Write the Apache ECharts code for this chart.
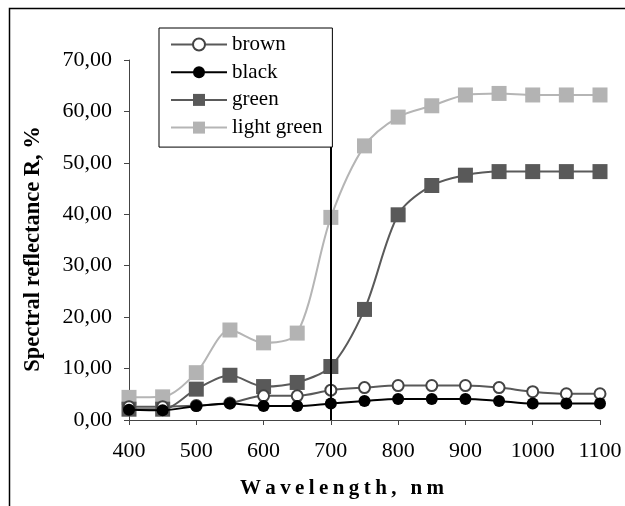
<!DOCTYPE html>
<html>
<head>
<meta charset="utf-8">
<script src="https://cdn.jsdelivr.net/npm/echarts@6/dist/echarts.min.js"></script>
<style>
    html, body { margin: 0; padding: 0; background: #fff; }
    #chart { width: 625px; height: 506px; }
</style>
</head>
<body>
<div id="chart"></div>
<script>
    // wavelengths, nm
    var wavelengths = [400, 450, 500, 550, 600, 650, 700, 750, 800, 850, 900, 950, 1000, 1050, 1100];
    // spectral reflectance, %
    var brown      = [2.6, 2.6, 2.8, 3.3, 4.7, 4.7, 5.8, 6.3, 6.7, 6.7, 6.7, 6.3, 5.5, 5.1, 5.1];
    var black      = [2.0, 1.9, 2.7, 3.2, 2.7, 2.7, 3.2, 3.7, 4.1, 4.1, 4.1, 3.7, 3.2, 3.2, 3.2];
    var green      = [2.1, 2.1, 6.0, 8.7, 6.5, 7.3, 10.4, 21.5, 39.9, 45.6, 47.6, 48.3, 48.3, 48.3, 48.3];
    var lightGreen = [4.4, 4.5, 9.2, 17.5, 15.0, 16.9, 39.4, 53.3, 58.9, 61.1, 63.2, 63.5, 63.2, 63.2, 63.2];
    var markWavelength = 700;
    var xTitle = 'Wavelength, nm';

    function pairs(vals) {
        var out = [];
        for (var i = 0; i < wavelengths.length; i++) {
            out.push([wavelengths[i], vals[i]]);
        }
        return out;
    }

    // spaced-out letters for the x title (canvas text has no letter-spacing)
    function spaced(str) {
        return str.split('').map(function (c) {
            return '{c|' + c + '}';
        }).join('');
    }

    var serif = '"Liberation Serif", "DejaVu Serif", serif';
    var chart = echarts.init(document.getElementById('chart'));

    var option = {
        animation: false,
        textStyle: { fontFamily: serif },
        graphic: [{
            type: 'rect',
            left: 7, top: 6,
            shape: { width: 700, height: 600 },
            style: { fill: 'none', stroke: '#000', lineWidth: 1.5 },
            z: 0
        }],
        legend: {
            orient: 'vertical',
            left: 159,
            top: 28,
            padding: [6, 10, 9, 11],
            itemGap: 6.7,
            itemWidth: 56,
            itemHeight: 15,
            backgroundColor: '#fff',
            borderColor: '#000',
            borderWidth: 1,
            zlevel: 2,
            z: 100,
            textStyle: { fontFamily: serif, fontSize: 21, color: '#000' },
            data: ['brown', 'black', 'green', 'light green']
        },
        grid: { left: 129, right: 25, top: 60, bottom: 86, containLabel: false },
        xAxis: {
            type: 'value',
            min: 400, max: 1100, interval: 100,
            name: spaced(xTitle),
            nameLocation: 'middle',
            nameGap: 58,
            nameTextStyle: {
                fontFamily: serif, fontSize: 21, fontWeight: 'bold', color: '#000',
                padding: [0, 45, 0, 0],
                rich: {
                    c: { fontFamily: serif, fontSize: 21, fontWeight: 'bold', color: '#000', padding: [0, 2.2, 0, 2.2] }
                }
            },
            splitLine: { show: false },
            axisLine: { lineStyle: { color: '#444', width: 1 } },
            axisTick: { length: 5, lineStyle: { color: '#444' } },
            axisLabel: {
                fontSize: 22, color: '#000', margin: 20, fontFamily: serif,
                formatter: function (v) { return String(v); }
            }
        },
        yAxis: {
            type: 'value',
            min: 0, max: 70, interval: 10,
            name: 'Spectral reflectance R, %',
            nameLocation: 'middle',
            nameGap: 84,
            nameTextStyle: {
                fontFamily: serif, fontSize: 22.5, fontWeight: 'bold', color: '#000',
                padding: [0, 18, 0, 0]
            },
            splitLine: { show: false },
            axisLine: { show: true, lineStyle: { color: '#444', width: 1 } },
            axisTick: { show: true, length: 5, lineStyle: { color: '#444' } },
            axisLabel: {
                fontSize: 22, color: '#000', margin: 17, fontFamily: serif,
                formatter: function (v) { return v.toFixed(2).replace('.', ','); }
            }
        },
        series: [
            {
                name: 'light green',
                type: 'line',
                data: pairs(lightGreen),
                smooth: 0.3,
                symbol: 'rect',
                symbolSize: 15,
                lineStyle: { color: '#b5b5b5', width: 2 },
                itemStyle: { color: '#b3b3b3' },
                z: 1,
                markLine: {
                    silent: true,
                    symbol: 'none',
                    z: 10,
                    zlevel: 0,
                    label: { show: false },
                    lineStyle: { color: '#000', width: 2, type: 'solid' },
                    data: [[{ coord: [markWavelength, 0] }, { coord: [markWavelength, 70] }]]
                }
            },
            {
                name: 'green',
                type: 'line',
                data: pairs(green),
                smooth: 0.3,
                symbol: 'rect',
                symbolSize: 15,
                lineStyle: { color: '#5a5a5a', width: 2 },
                itemStyle: { color: '#595959' },
                z: 2
            },
            {
                name: 'brown',
                type: 'line',
                data: pairs(brown),
                smooth: 0.3,
                symbol: 'emptyCircle',
                symbolSize: 11,
                lineStyle: { color: '#595959', width: 2 },
                itemStyle: { color: '#444', borderColor: '#444', borderWidth: 1.5 },
                z: 3
            },
            {
                name: 'black',
                type: 'line',
                data: pairs(black),
                smooth: 0.3,
                symbol: 'circle',
                symbolSize: 12,
                lineStyle: { color: '#000', width: 2 },
                itemStyle: { color: '#000' },
                z: 4
            }
        ]
    };

    chart.setOption(option);
</script>
</body>
</html>
